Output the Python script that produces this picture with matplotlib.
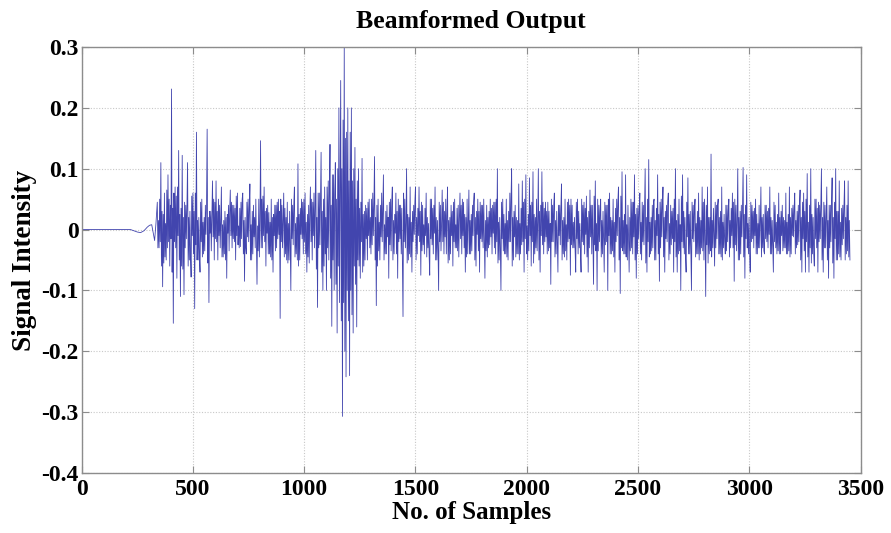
import numpy as np
import matplotlib
matplotlib.use("Agg")
import matplotlib.pyplot as plt

# ---------------- data ----------------
title_text = "Beamformed Output"
x_label = "No. of Samples"
y_label = "Signal Intensity"

x_ticks = [0, 500, 1000, 1500, 2000, 2500, 3000, 3500]
x_tick_labels = ["0", "500", "1000", "1500", "2000", "2500", "3000", "3500"]
y_ticks = [-0.4, -0.3, -0.2, -0.1, 0.0, 0.1, 0.2, 0.3]
y_tick_labels = ["-0.4", "-0.3", "-0.2", "-0.1", "0", "0.1", "0.2", "0.3"]

# quiet onset before the arrival
onset_samples = [0, 220, 235, 250, 265, 280, 295, 305, 315, 322, 328, 334]
onset_values = [0.0, 0.0, -0.002, -0.004, -0.005, -0.002, 0.004, 0.007, 0.008, -0.006, -0.018, 0.01]

# main peaks, one every 8 samples; each segment starts at the sample in its name
seg_0340 = [0.045, -0.03, 0.11, -0.094, 0.06, -0.05, 0.09, -0.06, 0.231, -0.154, 0.07, -0.08, 0.13,
            -0.11, 0.122, -0.107, 0.04, 0.11, -0.05, -0.078, 0.06, -0.13, 0.16, -0.05, -0.07]
seg_0540 = [0.05, -0.04, 0.04, 0.165, -0.12, 0.03, 0.08, -0.05, 0.08, -0.05, 0.04, 0.07, -0.045,
            0.03, -0.08, 0.04, 0.065, -0.03, 0.04, -0.05, 0.06, -0.03, 0.045, 0.06, -0.085]
seg_0740 = [-0.04, 0.05, 0.075, -0.05, 0.04, -0.03, -0.09, 0.05, 0.146, -0.03, 0.07, -0.06, 0.04,
            -0.04, 0.05, -0.07, 0.04, -0.03, 0.05, -0.146, 0.04, 0.06, -0.04, 0.045, -0.05]
seg_0940 = [-0.1, 0.04, 0.07, -0.04, 0.108, -0.05, 0.05, -0.04, 0.06, -0.07, 0.04, 0.07, -0.05,
            0.06, 0.13, -0.128, 0.06, 0.127, -0.1, 0.07, -0.1, 0.08, 0.14, -0.159, 0.09]
seg_1140 = [0.11, -0.17, 0.2, 0.245, -0.307, 0.3, -0.242, 0.2, -0.24, 0.2, -0.17, 0.135, -0.16,
            0.1, -0.08, 0.117, -0.06, 0.04, -0.05, 0.05, -0.04, 0.06, 0.12, -0.125, 0.05]
seg_1340 = [-0.05, 0.06, 0.09, -0.04, 0.04, -0.08, 0.05, 0.07, -0.04, 0.06, -0.08, 0.04, -0.04,
            -0.143, 0.05, 0.1, -0.05, 0.07, -0.07, 0.04, 0.07, -0.04, 0.07, -0.075, 0.04]
seg_1540 = [-0.04, 0.06, -0.03, -0.075, 0.05, -0.04, 0.07, -0.05, -0.1, 0.04, 0.065, -0.04, 0.05,
            0.07, -0.05, 0.04, -0.06, 0.05, -0.03, 0.04, 0.06, -0.04, 0.045, -0.07, 0.05]
seg_1740 = [0.065, -0.04, 0.04, 0.06, -0.06, 0.05, -0.07, 0.04, -0.03, -0.08, 0.04, -0.03, 0.05,
            -0.04, 0.045, -0.04, 0.1, -0.05, -0.1, 0.05, -0.04, 0.05, -0.05, 0.06, 0.1]
seg_1940 = [-0.05, 0.04, -0.04, 0.075, -0.04, 0.08, -0.07, 0.09, -0.05, 0.085, -0.06, 0.095, -0.04,
            0.05, 0.1, -0.07, 0.095, -0.04, 0.045, -0.04, 0.03, -0.09, 0.04, 0.06, -0.04]
seg_2140 = [-0.07, 0.04, 0.075, -0.04, 0.05, -0.05, 0.05, -0.075, 0.04, -0.03, -0.07, 0.05, -0.03,
            -0.07, 0.04, -0.04, 0.055, -0.07, 0.065, -0.04, -0.09, 0.08, -0.1, 0.04, 0.05]
seg_2340 = [-0.04, -0.07, 0.04, -0.1, 0.06, -0.04, 0.05, -0.07, 0.05, 0.07, -0.105, 0.095, -0.04,
            0.09, -0.05, -0.07, 0.05, -0.04, 0.09, -0.08, 0.04, 0.06, -0.05, 0.04, 0.1]
seg_2540 = [-0.07, 0.115, -0.04, 0.04, 0.05, -0.05, 0.09, -0.085, 0.05, 0.07, -0.07, 0.04, 0.06,
            -0.04, 0.03, -0.07, 0.1, -0.07, 0.05, -0.1, 0.09, -0.04, -0.07, 0.085, -0.04]
seg_2740 = [-0.1, 0.04, 0.05, -0.04, 0.06, -0.04, 0.07, -0.05, -0.11, 0.07, -0.04, 0.124, -0.03,
            -0.06, 0.04, 0.05, -0.04, 0.07, -0.03, -0.04, 0.04, 0.05, -0.03, 0.06, -0.085]
seg_2940 = [0.04, 0.1, -0.05, 0.04, 0.102, -0.08, 0.09, -0.04, -0.07, 0.04, -0.03, 0.05, -0.04,
            0.04, 0.07, -0.03, -0.04, 0.04, -0.03, 0.07, -0.04, -0.07, 0.04, -0.04, 0.06]
seg_3140 = [-0.04, 0.04, -0.03, 0.06, -0.04, 0.07, -0.04, 0.04, 0.06, -0.03, 0.04, 0.065, -0.07,
            0.06, -0.07, 0.092, -0.07, 0.1, -0.04, -0.06, 0.05, -0.07, 0.04, 0.1, -0.07]
seg_3340 = [0.04, 0.07, -0.08, 0.04, 0.085, -0.08, 0.1, -0.05, 0.08, -0.05, 0.04, 0.08, -0.04,
            0.08, -0.05]

# in-between ripples (dense core of the trace), two after each peak
rip_0340 = [-0.03, 0.015, 0.05, -0.02, -0.06, 0.03, 0.025, -0.055, -0.045, 0.01, 0.065, -0.03,
            -0.02, 0.05, 0.04, -0.015, -0.07, 0.035, 0.06, -0.02, -0.03, 0.055, 0.07, -0.01,
            -0.05, 0.025, 0.035, -0.06, -0.065, 0.02, 0.045, -0.03, -0.015, 0.04, -0.06, 0.02,
            0.03, -0.045, 0.055, -0.01, -0.04, 0.03, 0.06, -0.025, -0.05, 0.015, 0.02, -0.045,
            0.045, -0.02]
rip_0540 = [-0.045, 0.012, 0.02, -0.035, -0.008, 0.045, -0.055, 0.02, 0.03, -0.006, -0.035, 0.028,
            -0.012, 0.05, 0.045, -0.015, -0.02, 0.03, 0.05, -0.01, -0.03, 0.015, -0.045, 0.008,
            0.015, -0.04, -0.05, 0.02, 0.025, -0.006, -0.035, 0.03, -0.01, 0.045, 0.04, -0.015,
            -0.02, 0.035, 0.055, -0.01, -0.025, 0.006, 0.035, -0.028, -0.015, 0.05, -0.04, 0.015,
            0.02, -0.03]
rip_0740 = [0.045, -0.012, -0.02, 0.035, -0.05, 0.008, 0.03, -0.04, -0.012, 0.02, 0.05, -0.025,
            0.006, -0.035, -0.045, 0.015, -0.03, 0.05, 0.055, -0.01, -0.02, 0.03, 0.035, -0.006,
            -0.04, 0.028, 0.012, -0.045, -0.05, 0.02, 0.025, -0.01, -0.035, 0.04, 0.045, -0.015,
            -0.008, 0.03, 0.05, -0.02, -0.03, 0.012, -0.045, 0.035, 0.02, -0.05, -0.055, 0.01,
            0.03, -0.025]
rip_0940 = [0.05, -0.015, -0.025, 0.04, -0.045, 0.01, 0.02, -0.05, -0.06, 0.025, 0.035, -0.008,
            -0.015, 0.045, 0.05, -0.02, -0.04, 0.012, 0.025, -0.045, -0.055, 0.03, -0.02, 0.05,
            0.045, -0.01, -0.03, 0.035, -0.065, 0.02, 0.06, -0.03, -0.025, 0.05, -0.07, 0.03,
            0.05, -0.06, -0.04, 0.02, 0.07, -0.03, -0.05, 0.06, -0.08, 0.04, 0.09, -0.05,
            -0.1, 0.06]
rip_1140 = [-0.09, 0.05, 0.1, -0.06, -0.12, 0.08, -0.15, 0.1, 0.18, -0.12, -0.2, 0.15, 0.16, -0.1,
            -0.15, 0.08, 0.16, -0.1, -0.14, 0.08, 0.1, -0.06, -0.09, 0.05, 0.08, -0.05, -0.06, 0.035,
            0.045, -0.02, -0.07, 0.025, 0.03, -0.05, -0.015, 0.035, 0.045, -0.01, -0.03, 0.02,
            0.05, -0.025, -0.01, 0.04, -0.05, 0.02, 0.04, -0.06, -0.035, 0.012]
rip_1340 = [0.04, -0.012, -0.02, 0.035, -0.05, 0.008, 0.03, -0.04, -0.012, 0.02, 0.045, -0.025,
            -0.035, 0.045, -0.05, 0.015, 0.025, -0.006, -0.04, 0.03, 0.05, -0.02, -0.015, 0.04,
            0.035, -0.05, 0.06, -0.02, -0.03, 0.01, -0.055, 0.025, 0.02, -0.04, -0.045, 0.012,
            0.03, -0.02, -0.008, 0.045, -0.05, 0.02, 0.035, -0.01, -0.02, 0.03, 0.045, -0.035,
            -0.025, 0.008]
rip_1540 = [0.035, -0.01, -0.045, 0.02, 0.01, -0.04, 0.05, -0.015, -0.025, 0.035, 0.04, -0.006,
            -0.05, 0.02, 0.015, -0.03, 0.045, -0.02, -0.035, 0.01, -0.02, 0.045, 0.03, -0.012,
            -0.04, 0.025, -0.055, 0.015, 0.02, -0.04, -0.01, 0.03, 0.045, -0.02, -0.03, 0.008,
            0.035, -0.035, -0.045, 0.02, -0.015, 0.04, 0.05, -0.01, -0.03, 0.025, 0.02, -0.045,
            -0.04, 0.012]
rip_1740 = [-0.04, 0.015, 0.025, -0.035, -0.01, 0.045, -0.05, 0.02, 0.03, -0.008, -0.035, 0.03,
            0.045, -0.015, -0.02, 0.04, 0.05, -0.01, 0.015, -0.035, -0.045, 0.02, 0.03, -0.025,
            -0.012, 0.035, 0.04, -0.006, -0.03, 0.045, 0.05, -0.02, -0.055, 0.012, 0.02, -0.03,
            0.045, -0.015, -0.035, 0.025, 0.01, -0.04, -0.045, 0.015, 0.03, -0.02, -0.02, 0.05,
            -0.06, 0.02]
rip_1940 = [0.03, -0.012, -0.045, 0.02, 0.015, -0.04, -0.05, 0.01, 0.035, -0.025, -0.02, 0.045,
            0.05, -0.015, -0.04, 0.006, 0.025, -0.035, -0.01, 0.04, 0.045, -0.02, -0.055, 0.025,
            0.02, -0.03, -0.035, 0.012, -0.05, 0.03, 0.04, -0.01, -0.025, 0.045, 0.035, -0.02,
            -0.012, 0.03, 0.045, -0.035, -0.03, 0.01, 0.05, -0.02, -0.02, 0.04, -0.045, 0.015,
            0.03, -0.025]
rip_2140 = [0.04, -0.01, -0.025, 0.035, -0.05, 0.015, 0.02, -0.045, -0.035, 0.008, 0.045, -0.02,
            -0.015, 0.04, 0.05, -0.025, -0.03, 0.012, 0.02, -0.035, 0.045, -0.015, -0.04, 0.03,
            0.01, -0.04, 0.05, -0.02, -0.025, 0.045, 0.035, -0.008, -0.045, 0.02, 0.03, -0.03,
            -0.012, 0.04, 0.04, -0.015, 0.055, -0.025, -0.035, 0.01, 0.05, -0.035, -0.02, 0.03,
            -0.045, 0.015]
rip_2340 = [0.03, -0.015, 0.045, -0.025, -0.02, 0.04, 0.05, -0.01, -0.04, 0.02, 0.015, -0.035,
            -0.045, 0.012, 0.035, -0.02, -0.01, 0.045, -0.05, 0.02, 0.055, -0.03, -0.035, 0.015,
            0.025, -0.04, -0.045, 0.008, 0.04, -0.02, 0.02, -0.035, -0.03, 0.045, 0.045, -0.012,
            -0.05, 0.025, 0.035, -0.04, -0.015, 0.03, -0.04, 0.012, 0.045, -0.02, -0.025, 0.04,
            -0.055, 0.02]
rip_2540 = [0.05, -0.02, -0.045, 0.012, 0.02, -0.035, -0.03, 0.045, -0.05, 0.015, 0.035, -0.01,
            -0.04, 0.025, 0.045, -0.03, -0.012, 0.04, -0.045, 0.02, 0.03, -0.015, -0.02, 0.045,
            -0.05, 0.01, 0.04, -0.025, -0.015, 0.035, 0.05, -0.02, -0.045, 0.015, 0.025, -0.04,
            -0.035, 0.008, 0.055, -0.02, -0.03, 0.03, 0.02, -0.045, 0.045, -0.012, -0.04, 0.025,
            0.03, -0.035]
rip_2740 = [0.045, -0.015, -0.02, 0.035, -0.045, 0.01, 0.03, -0.04, -0.05, 0.02, 0.015, -0.03,
            -0.035, 0.045, 0.05, -0.012, 0.04, -0.025, -0.055, 0.02, 0.02, -0.035, -0.045, 0.015,
            0.035, -0.008, 0.045, -0.03, -0.015, 0.04, -0.04, 0.02, 0.03, -0.045, -0.05, 0.012,
            0.025, -0.02, 0.04, -0.035, -0.02, 0.03, -0.045, 0.015, 0.035, -0.01, -0.03, 0.045,
            0.05, -0.025]
rip_2940 = [-0.035, 0.015, -0.05, 0.02, 0.03, -0.04, -0.012, 0.035, -0.045, 0.025, 0.04, -0.015,
            -0.03, 0.01, 0.02, -0.035, 0.045, -0.02, -0.015, 0.03, 0.035, -0.01, -0.04, 0.025,
            0.01, -0.03, -0.03, 0.012, -0.045, 0.02, 0.025, -0.035, 0.04, -0.015, -0.02, 0.03,
            0.035, -0.008, -0.04, 0.02, 0.015, -0.03, 0.045, -0.02, -0.03, 0.012, 0.025, -0.035,
            -0.04, 0.02]
rip_3140 = [0.03, -0.01, -0.035, 0.02, 0.015, -0.03, -0.04, 0.012, 0.025, -0.035, -0.045, 0.02,
            0.035, -0.01, -0.012, 0.035, -0.04, 0.015, 0.03, -0.025, -0.02, 0.04, -0.05, 0.02,
            0.045, -0.015, -0.035, 0.03, 0.05, -0.02, -0.045, 0.012, 0.04, -0.03, -0.055, 0.025,
            0.02, -0.04, 0.05, -0.015, -0.03, 0.035, 0.045, -0.02, -0.015, 0.04, -0.05, 0.02,
            0.045, -0.03]
rip_3340 = [-0.03, 0.02, -0.05, 0.015, 0.04, -0.03, -0.02, 0.045, -0.055, 0.02, 0.045, -0.015,
            -0.05, 0.03, 0.03, -0.04, -0.045, 0.012, 0.035, -0.025, -0.015, 0.04, -0.05, 0.02,
            0.04, -0.035, -0.045, 0.015]

segments = [
    (340, seg_0340, rip_0340), (540, seg_0540, rip_0540), (740, seg_0740, rip_0740),
    (940, seg_0940, rip_0940), (1140, seg_1140, rip_1140), (1340, seg_1340, rip_1340),
    (1540, seg_1540, rip_1540), (1740, seg_1740, rip_1740), (1940, seg_1940, rip_1940),
    (2140, seg_2140, rip_2140), (2340, seg_2340, rip_2340), (2540, seg_2540, rip_2540),
    (2740, seg_2740, rip_2740), (2940, seg_2940, rip_2940), (3140, seg_3140, rip_3140),
    (3340, seg_3340, rip_3340),
]
peak_step = 8

# ---------------- assemble ----------------
samples_list = list(onset_samples)
values_list = list(onset_values)
for start, peaks, ripples in segments:
    n_pairs = len(ripples) // 2
    for i, p in enumerate(peaks):
        s = start + peak_step * i
        samples_list.append(s)
        values_list.append(p)
        if i < n_pairs:
            samples_list.append(s + peak_step / 3.0)
            values_list.append(ripples[2 * i])
            samples_list.append(s + 2 * peak_step / 3.0)
            values_list.append(ripples[2 * i + 1])
samples = np.array(samples_list, dtype=float)
values = np.array(values_list, dtype=float)

# ---------------- plot ----------------
plt.rcParams['font.family'] = ['Liberation Serif', 'DejaVu Serif']
plt.rcParams['font.weight'] = 'bold'

fig = plt.figure(figsize=(8.91, 5.33), dpi=100)
ax = fig.add_axes([0.0916, 0.1126, 0.8743, 0.7992])

ax.plot(samples, values, color='#4245ae', linewidth=0.6)

ax.set_xlim(0, 3500)
ax.set_ylim(-0.4, 0.3)
ax.set_xticks(x_ticks)
ax.set_xticklabels(x_tick_labels)
ax.set_yticks(y_ticks)
ax.set_yticklabels(y_tick_labels)

ax.grid(True, color='#c8c8c8', linestyle=(0, (1, 1.5)), linewidth=0.8)
ax.set_axisbelow(True)
for sp in ax.spines.values():
    sp.set_color('#8c8c8c')
    sp.set_linewidth(1.0)
ax.tick_params(direction='in', top=True, right=True, length=5, width=0.8,
               color='#8c8c8c', labelsize=17)
ax.tick_params(axis='x', pad=4)
ax.tick_params(axis='y', pad=2)
for lab in ax.get_xticklabels() + ax.get_yticklabels():
    lab.set_fontweight('bold')

ax.set_title(title_text, fontsize=18.5, fontweight='bold', pad=14)
ax.set_xlabel(x_label, fontsize=18, fontweight='bold', labelpad=1)
ax.set_ylabel(y_label, fontsize=19.5, fontweight='bold', labelpad=3)

fig.savefig('out.png', dpi=100)
